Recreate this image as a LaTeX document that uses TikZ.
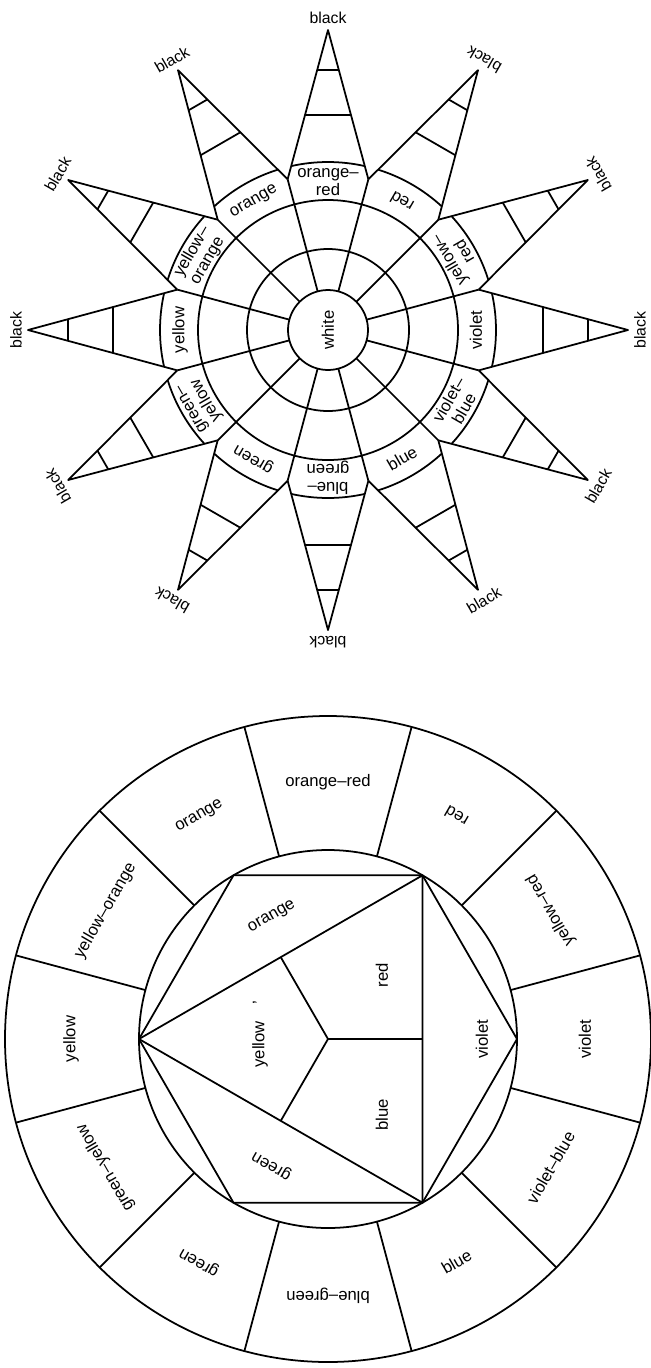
\documentclass[tikz,border=0pt]{standalone}
\usepackage{fontspec}
\setmainfont{Liberation Sans}
\usetikzlibrary{calc}

\begin{document}
\begin{tikzpicture}[
  x=0.2mm,y=0.2mm,
  rim/.style={line width=1pt,black,line join=round},
  lab/.style={font=\fontsize{9.5}{10}\selectfont,align=center,inner sep=0pt},
  tiplab/.style={font=\fontsize{9}{10}\selectfont,inner sep=0pt}
]
\useasboundingbox (0,0) rectangle (650,-1368);

% STAR: centre, rings, spokes and points
\coordinate (sc) at (328,-330);
\draw[rim] (sc) circle (40) (sc) circle (81) (sc) circle (130);
\node[lab,rotate=90] (white) at (sc) {white};
\foreach \k in {0,...,11} {
  \coordinate (tip\k) at ($(sc)+({30*\k}:300)$);
  \coordinate (crn\k) at ($(sc)+({30*\k+15}:156)$);
}
\foreach \k in {0,...,11} {
  \pgfmathtruncatemacro\j{mod(\k+11,12)}
  % spoke, then the two edges of the point
  \draw[rim] ($(sc)+({30*\k+15}:40)$) -- (crn\k);
  \draw[rim] (crn\j) -- (tip\k) -- (crn\k);
  % cells inside the point
  \draw[rim] ($(sc)+({30*\k-12.66}:168)$) arc[start angle={30*\k-12.66}, end angle={30*\k+12.66}, radius=168];
  \draw[rim] ($(crn\j)!0.431!(tip\k)$) -- ($(crn\k)!0.431!(tip\k)$);
  \draw[rim] ($(crn\j)!0.732!(tip\k)$) -- ($(crn\k)!0.732!(tip\k)$);
}

% star colour names
\foreach \a/\r/\t in {90/0/{orange\textendash\\red}, 60/150/red, 30/120/{yellow\textendash\\red},
    0/90/violet, 330/60/{violet\textendash\\blue}, 300/30/blue, 270/180/{blue\textendash\\green},
    240/150/green, 210/120/{green\textendash\\yellow}, 180/90/yellow,
    150/60/{yellow\textendash\\orange}, 120/30/orange}
  \node[lab,rotate=\r] (cell\a) at ($(sc)+(\a:148)$) {\t};

% black at every tip
\foreach \a/\r in {90/0, 60/150, 30/120, 0/90, 330/60, 300/30, 270/180,
    240/150, 210/120, 180/90, 150/60, 120/30}
  \node[tiplab,rotate=\r] (blk\a) at ($(sc)+(\a:312)$) {black};

% WHEEL: outer ring of twelve
\coordinate (wc) at (328,-1039);
\draw[rim] (wc) circle (323) (wc) circle (189);
\foreach \k in {0,...,11}
  \draw[rim] ($(wc)+({30*\k+15}:189)$) -- ($(wc)+({30*\k+15}:323)$);
\foreach \a/\r/\t in {90/0/orange\textendash red, 60/150/red, 30/120/yellow\textendash red,
    0/90/violet, 330/60/violet\textendash blue, 300/30/blue, 270/180/blue\textendash green,
    240/150/green, 210/120/green\textendash yellow, 180/90/yellow,
    150/60/yellow\textendash orange, 120/30/orange}
  \node[lab,rotate=\r] (ring\a) at ($(wc)+(\a:257)$) {\t};

% hexagon, triangle and the three primaries
\foreach \k in {0,...,5}
  \coordinate (hx\k) at ($(wc)+({60*\k}:189)$);
\draw[rim] (hx0) -- (hx1) -- (hx2) -- (hx3) -- (hx4) -- (hx5) -- cycle;
\draw[rim] (hx1) -- (hx3) -- (hx5) -- cycle;
\draw[rim] (wc) -- ($(hx1)!0.5!(hx3)$) (wc) -- ($(hx3)!0.5!(hx5)$) (wc) -- ($(hx5)!0.5!(hx1)$);

\node[lab,rotate=30] (in-orange) at ($(wc)+(-56,122)$) {orange};
\node[lab,rotate=150] (in-green) at ($(wc)+(-56,-126)$) {green};
\node[lab,rotate=90] (in-violet) at ($(wc)+(154,0)$) {violet};
\node[lab,rotate=90] (in-red) at ($(wc)+(54,64)$) {red};
\node[lab,rotate=90] (in-blue) at ($(wc)+(54,-76)$) {blue};
\node[lab,rotate=90] (in-yellow) at ($(wc)+(-68,5)$) {yellow\quad'};

\end{tikzpicture}
\end{document}
